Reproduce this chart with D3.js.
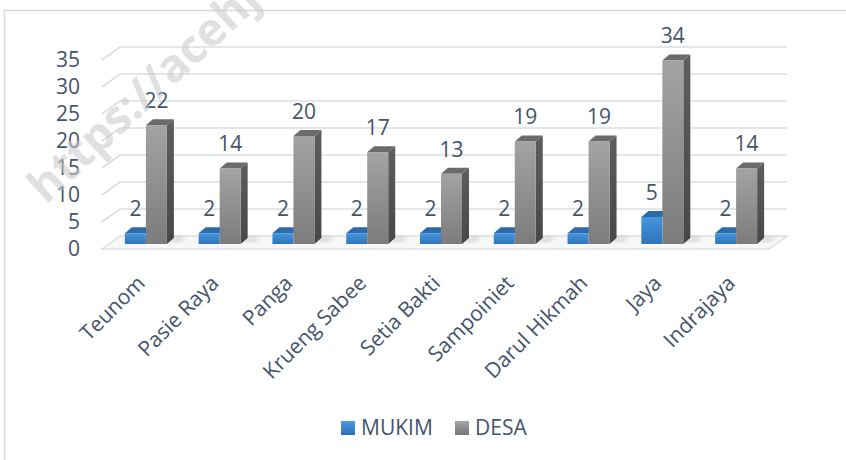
<!DOCTYPE html>
<meta charset="utf-8">
<title>Mukim dan Desa</title>
<style>
body { margin: 0; background: #fff; }
svg text { font-family: "Open Sans", sans-serif; fill: #44546a; }
</style>
<svg></svg>
<script src="https://cdnjs.cloudflare.com/ajax/libs/d3/7.8.5/d3.min.js"></script>
<script>
// data
var kecamatan = ["Teunom", "Pasie Raya", "Panga", "Krueng Sabee", "Setia Bakti",
                 "Sampoiniet", "Darul Hikmah", "Jaya", "Indrajaya"];
var mukim = [2, 2, 2, 2, 2, 2, 2, 5, 2];
var desa = [22, 14, 20, 17, 13, 19, 19, 34, 14];
var yTicks = [0, 5, 10, 15, 20, 25, 30, 35];
var seriesNames = ["MUKIM", "DESA"];

var width = 846, height = 460;
var svg = d3.select("svg").attr("width", width).attr("height", height);

var defs = svg.append("defs");
function grad(id, c1, c2) {
  var g = defs.append("linearGradient").attr("id", id)
      .attr("x1", 0).attr("y1", 0).attr("x2", 0).attr("y2", 1);
  g.append("stop").attr("offset", "0%").attr("stop-color", c1);
  g.append("stop").attr("offset", "100%").attr("stop-color", c2);
}
grad("gBlue", "#4596dd", "#2e74b8");
grad("gGray", "#a3a3a3", "#7c7c7c");
grad("gGraySide", "#5e5e5e", "#474747");
grad("lBlue", "#4a9be0", "#2d6fb2");
grad("lGray", "#a6a6a6", "#747474");
defs.append("filter").attr("id", "blur")
  .append("feGaussianBlur").attr("stdDeviation", 2.5);

// outer border
svg.append("rect")
    .attr("x", 4.5).attr("y", 10.5)
    .attr("width", 900).attr("height", 500)
    .style("fill", "none").style("stroke", "#d9d9d9").style("stroke-width", 1.5);

var y = d3.scaleLinear().domain([0, 35]).range([244, 244 - 35 * 5.4]);
var x = d3.scaleBand().domain(kecamatan).range([109, 773]).padding(0);

var bw = 21, ddx = 7, ddy = -6;   // bar face width and depth
var wallX0 = 120, wallX1 = 787, slx = 102;
var fs = "21px";

// floor
var floorBack = y(0) - 8, floorFront = y(0) + 5;
svg.append("path")
    .attr("d", "M" + slx + "," + floorFront + "L" + wallX0 + "," + floorBack +
               "L" + wallX1 + "," + floorBack + "L" + (wallX1 - 18) + "," + floorFront + "Z")
    .style("fill", "#f7f7f7").style("stroke", "#dadee4").style("stroke-width", 1.5);

// gridlines on wall
var grid = svg.append("g");
yTicks.filter(function(d) { return d > 0; }).forEach(function(v) {
  var yb = y(v) - 8;
  grid.append("path")
      .attr("d", "M" + slx + "," + (yb + 13) + "L" + wallX0 + "," + yb + "L" + wallX1 + "," + yb)
      .style("fill", "none").style("stroke", "#dadee4").style("stroke-width", 1.6);
});

// y labels
var yAxis = svg.append("g")
    .attr("transform", "translate(80,5)")
    .call(d3.axisLeft(y).tickValues(yTicks).tickSize(0).tickPadding(0));
yAxis.select(".domain").remove();
yAxis.selectAll("text").style("font-size", fs).style("fill", "#44546a")
    .style("font-family", "'Open Sans', sans-serif");

// shadows on the floor
var shadows = svg.append("g").attr("filter", "url(#blur)").style("opacity", 0.35);
kecamatan.forEach(function(k) {
  var c = x(k) + x.bandwidth() / 2;
  shadows.append("path")
      .attr("d", "M" + (c + bw) + "," + (y(0) - 2) + "L" + (c + bw + 14) + "," + (y(0) - 2) +
                 "L" + (c + bw + 18) + "," + (y(0) - 8) + "L" + (c + bw + ddx) + "," + (y(0) + ddy))
      .style("fill", "#888");
});

// bars
function bar(g, x0, v, front, top, side) {
  var yt = y(v), yb = y(0);
  if (side) {
    g.append("path")
        .attr("d", "M" + (x0 + bw) + "," + yt + "L" + (x0 + bw + ddx) + "," + (yt + ddy) +
                   "L" + (x0 + bw + ddx) + "," + (yb + ddy) + "L" + (x0 + bw) + "," + yb + "Z")
        .style("fill", side);
  }
  g.append("path")
      .attr("d", "M" + x0 + "," + yt + "L" + (x0 + ddx) + "," + (yt + ddy) +
                 "L" + (x0 + bw + ddx) + "," + (yt + ddy) + "L" + (x0 + bw) + "," + yt + "Z")
      .style("fill", top);
  g.append("rect")
      .attr("x", x0).attr("y", yt).attr("width", bw).attr("height", yb - yt)
      .style("fill", front);
}

var bars = svg.append("g");
kecamatan.forEach(function(k, i) {
  var c = x(k) + x.bandwidth() / 2;
  bar(bars, c - bw, mukim[i], "url(#gBlue)", "#2c6aab", null);
  bar(bars, c, desa[i], "url(#gGray)", "#6b6b6b", "url(#gGraySide)");
});

// value labels
var vl = svg.append("g").style("font-size", fs).attr("text-anchor", "middle");
kecamatan.forEach(function(k, i) {
  var c = x(k) + x.bandwidth() / 2;
  vl.append("text").attr("x", c - bw / 2).attr("y", y(mukim[i]) - 17).text(mukim[i]);
  vl.append("text").attr("x", c + bw / 2).attr("y", y(desa[i]) - 17).text(desa[i]);
});

// category labels
var xAxis = svg.append("g")
    .attr("transform", "translate(0,262)")
    .call(d3.axisBottom(x).tickSize(0).tickPadding(0));
xAxis.select(".domain").remove();
xAxis.selectAll("text")
    .style("font-size", fs).style("fill", "#44546a")
    .style("font-family", "'Open Sans', sans-serif")
    .attr("text-anchor", "end")
    .attr("dy", "0.7em")
    .attr("transform", "translate(-10,12) rotate(-45)");

// legend
var legend = svg.append("g").style("font-size", fs);
var legendX = [341, 455];
var legendFill = ["url(#lBlue)", "url(#lGray)"];
seriesNames.forEach(function(s, i) {
  legend.append("rect").attr("x", legendX[i]).attr("y", 421).attr("width", 14).attr("height", 14)
      .style("fill", legendFill[i]);
  legend.append("text").attr("x", legendX[i] + 20).attr("y", 435).text(s);
});

// watermark
svg.append("text")
    .attr("transform", "translate(46,205) rotate(-43)")
    .style("font-size", "46px").style("font-weight", "bold")
    .style("fill", "#c8c8c8").style("opacity", 0.55)
    .text("https://acehjayakab.go.id");
</script>
